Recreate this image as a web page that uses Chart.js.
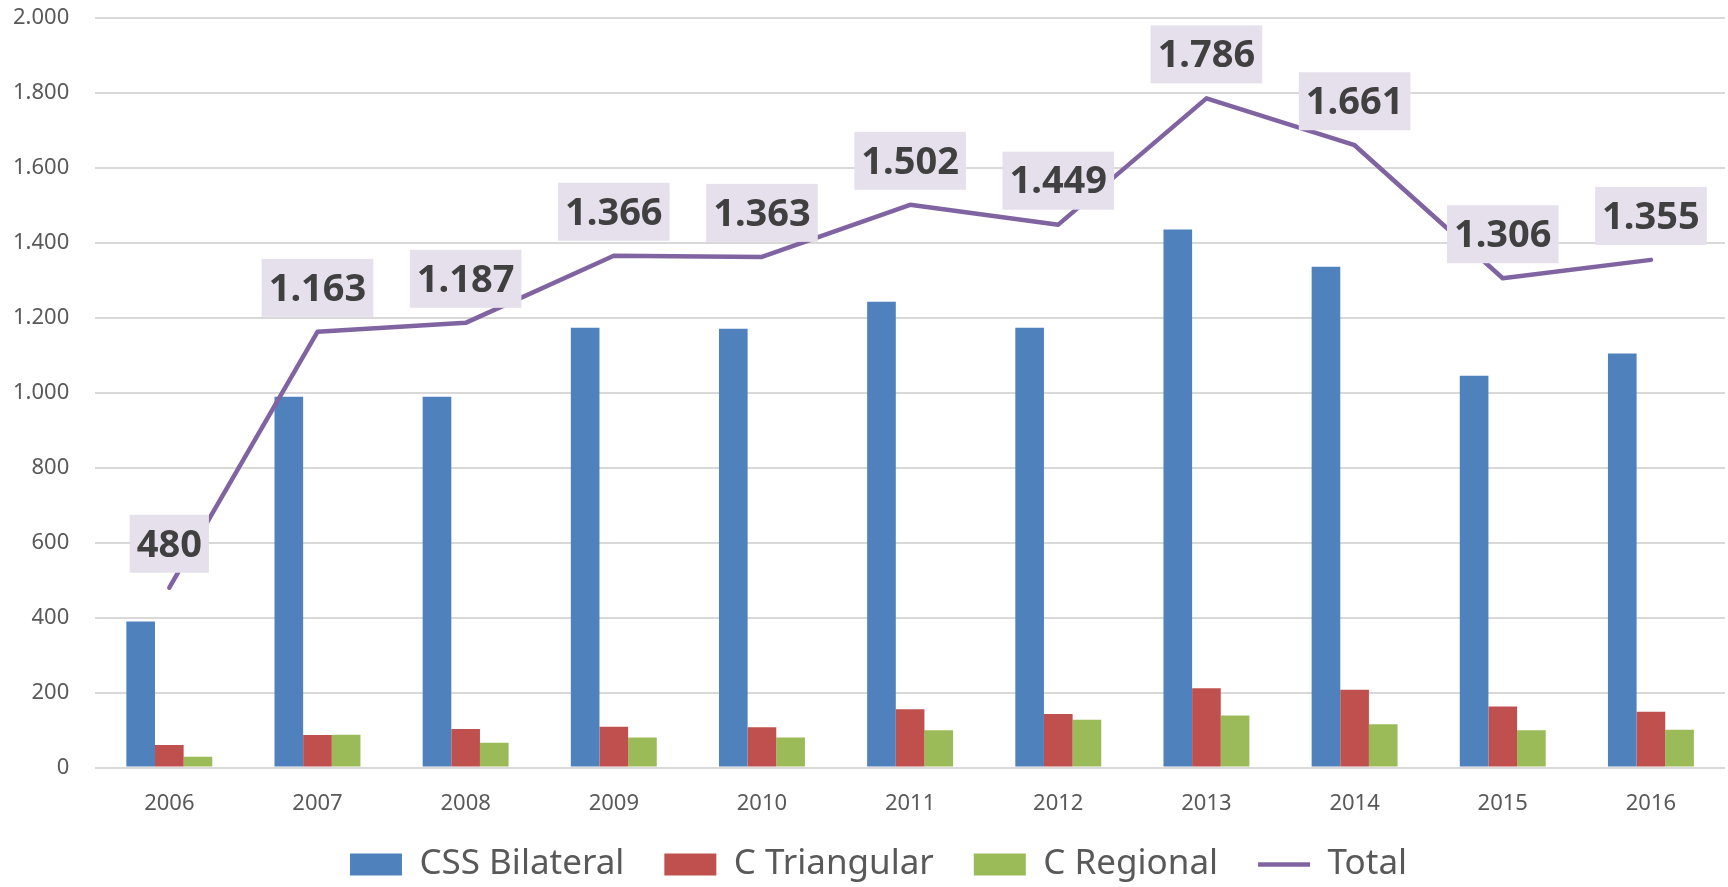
<!DOCTYPE html>
<html>
<head>
<meta charset="utf-8">
<script src="https://cdn.jsdelivr.net/npm/chart.js@4/dist/chart.umd.min.js"></script>
<style>
  html, body { margin: 0; padding: 0; background: #fff; }
  #wrap { width: 1728px; height: 887px; }
</style>
</head>
<body>
<div id="wrap"><canvas id="myChart1"></canvas></div>
<script>
// datos
const years = ["2006", "2007", "2008", "2009", "2010", "2011", "2012", "2013", "2014", "2015", "2016"];
const cssBilateral = [390, 990, 990, 1174, 1171, 1243, 1174, 1436, 1337, 1046, 1105];
const cTriangular = [60, 87, 103, 109, 108, 156, 143, 212, 208, 163, 149];
const cRegional = [29, 88, 66, 80, 80, 100, 128, 139, 116, 100, 101];
const total = [480, 1163, 1187, 1366, 1363, 1502, 1449, 1786, 1661, 1306, 1355];

// 1234 -> "1.234"
function fmt(v) {
    return String(v).replace(/\B(?=(\d{3})+(?!\d))/g, ".");
}

// etiquetas de la línea Total (cajas lila)
const totalLabels = {
    id: "totalLabels",
    afterDatasetsDraw(chart) {
        const meta = chart.getDatasetMeta(3);
        const ctx = chart.ctx;
        ctx.save();
        ctx.font = "bold 38px 'Noto Sans', sans-serif";
        ctx.textAlign = "center";
        ctx.textBaseline = "middle";
        meta.data.forEach(function (pt, i) {
            const txt = fmt(total[i]);
            const w = ctx.measureText(txt).width + 14;
            const h = 58;
            const cx = pt.x;
            const bottom = pt.y - 15;
            ctx.fillStyle = "#E6E0EC";
            ctx.fillRect(cx - w / 2, bottom - h, w, h);
            ctx.fillStyle = "#404040";
            ctx.fillText(txt, cx, bottom - h / 2 + 2);
        });
        ctx.restore();
    }
};

// sube la leyenda (su relleno superior es demasiado grande) y la centra como en el original
const legendShift = {
    id: "legendShift",
    afterLayout(chart) {
        const lg = chart.legend;
        lg.top -= 25;
        lg.bottom -= 25;
        lg.left += 12;
        lg.right += 12;
    }
};

window.onload = function () {
    Chart.defaults.font.family = "'Noto Sans', sans-serif";
    Chart.defaults.color = "#595959";
    const ctx = document.getElementById("myChart1").getContext("2d");
    new Chart(ctx, {
        type: "bar",
        data: {
            labels: years,
            datasets: [
                {
                    label: "CSS Bilateral",
                    data: cssBilateral,
                    backgroundColor: "#4F81BD",
                    pointStyle: "rect",
                    order: 1,
                },
                {
                    label: "C Triangular",
                    data: cTriangular,
                    backgroundColor: "#C0504D",
                    pointStyle: "rect",
                    order: 1,
                },
                {
                    label: "C Regional",
                    data: cRegional,
                    backgroundColor: "#9BBB59",
                    pointStyle: "rect",
                    order: 1,
                },
                {
                    type: "line",
                    label: "Total",
                    data: total,
                    borderColor: "#8064A2",
                    backgroundColor: "#8064A2",
                    borderWidth: 4.5,
                    borderCapStyle: "round",
                    borderJoinStyle: "round",
                    pointRadius: 0,
                    pointHoverRadius: 0,
                    pointStyle: "line",
                    tension: 0,
                    order: 0,
                },
            ],
        },
        options: {
            responsive: true,
            maintainAspectRatio: false,
            animation: false,
            layout: { padding: { left: 8, right: 3, top: 0, bottom: -30 } },
            datasets: {
                bar: { categoryPercentage: 0.58, barPercentage: 1.0 },
            },
            plugins: {
                tooltip: { enabled: false },
                legend: {
                    position: "bottom",
                    labels: {
                        usePointStyle: true,
                        pointStyleWidth: 52,
                        boxHeight: 22,
                        padding: 40,
                        color: "#595959",
                        font: { size: 35 },
                        sort: function (a, b) { return a.datasetIndex - b.datasetIndex; },
                    },
                },
            },
            scales: {
                x: {
                    grid: { display: false },
                    border: { display: false },
                    ticks: { font: { size: 22 }, padding: 15, color: "#595959" },
                },
                y: {
                    min: 0,
                    max: 2000,
                    grid: {
                        color: "#D9D9D9",
                        lineWidth: 2,
                        drawTicks: true,
                        tickLength: 21,
                        tickColor: "rgba(0,0,0,0)",
                    },
                    border: { display: false },
                    ticks: {
                        stepSize: 200,
                        padding: 5,
                        font: { size: 22 },
                        color: "#595959",
                        callback: function (v) { return fmt(v); },
                    },
                },
            },
        },
        plugins: [totalLabels, legendShift],
    });
};
</script>
</body>
</html>
